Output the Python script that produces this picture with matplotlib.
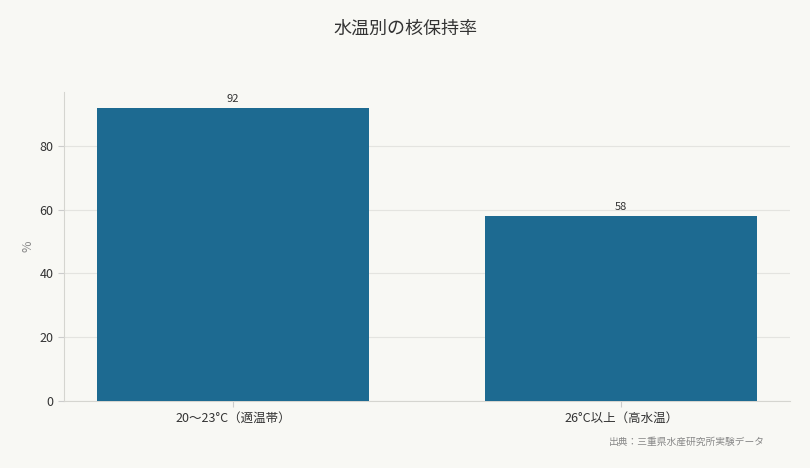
import matplotlib
matplotlib.use("Agg")
import matplotlib.pyplot as plt

plt.rcParams['font.family'] = ['Noto Sans CJK JP', 'DejaVu Sans']

categories = ["20〜23°C（適温帯）", "26°C以上（高水温）"]
values = [92, 58]
title = "水温別の核保持率"
ylabel = "%"
source = "出典：三重県水産研究所実験データ"

bg = "#f8f8f4"
fig = plt.figure(figsize=(8.1, 4.68), dpi=100, facecolor=bg)
ax = fig.add_axes([64/810, 1-401/468, 726/810, (401-92)/468], facecolor=bg)

x = range(len(categories))
bars = ax.bar(x, values, width=0.7, color="#1d6a91", zorder=3)
for xi, v in zip(x, values):
    ax.text(xi, v + 1.2, str(v), ha="center", va="bottom", fontsize=8, color="#333333")

ax.set_xlim(-0.435, 1.435)
ax.set_ylim(0, 96.9)
ax.set_xticks(list(x))
ax.set_xticklabels(categories, fontsize=9, color="#333333")
ax.set_yticks([0, 20, 40, 60, 80])
ax.tick_params(axis="y", labelsize=9, colors="#333333", length=4, color="#cccccc")
ax.tick_params(axis="x", length=4, color="#cccccc")
ax.set_ylabel(ylabel, fontsize=9, color="#888888")
ax.grid(axis="y", color="#e4e4e0", linewidth=0.8, zorder=0)
for s in ["top", "right"]:
    ax.spines[s].set_visible(False)
for s in ["left", "bottom"]:
    ax.spines[s].set_color("#d5d5d0")

fig.text(0.5, 1-29/468, title, ha="center", va="center", fontsize=13, color="#333333")
fig.text(765/810, 1-442/468, source, ha="right", va="center", fontsize=7, color="#888888")

fig.savefig("out.png", dpi=100, facecolor=bg)
